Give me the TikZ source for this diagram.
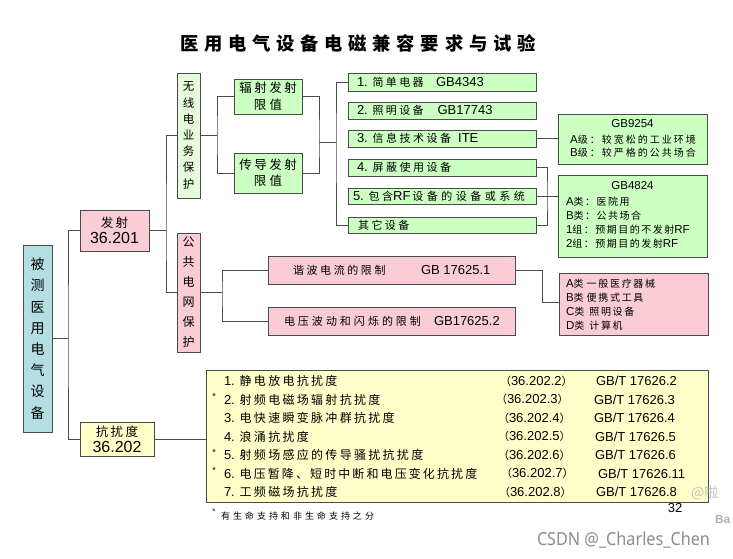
\documentclass[tikz,border=0pt]{standalone}
\usepackage{fontspec}
\usepackage{graphicx}
\setmainfont{Liberation Sans}
\newfontfamily\cjk{Noto Sans CJK SC}
\newfontfamily\wmfont{Noto Sans}
\usetikzlibrary{shadows}
\makeatletter
\def\zhspread#1{\def\zh@k{#1}\zh@first}
\def\zh@first#1{\ifx#1\relax\else#1\expandafter\zh@next\fi}
\def\zh@next#1{\ifx#1\relax\else\kern\zh@k\relax#1\expandafter\zh@next\fi}
\makeatother
\newcommand\Z[3]{{\cjk\fontsize{#1}{#1}\selectfont\zhspread{#2}#3\relax}}
\definecolor{gfill}{HTML}{CCFFC2}
\definecolor{gpale}{HTML}{E4FCDC}
\definecolor{pfill}{HTML}{FACCD5}
\definecolor{tfill}{HTML}{B4DEE2}
\definecolor{yfill}{HTML}{FFFFCA}
\definecolor{edge}{HTML}{4A4A4A}
\begin{document}
\begin{tikzpicture}[x=1pt,y=-1pt,
  bx/.style={draw=edge, line width=0.8pt, inner sep=0pt, outer sep=0pt,
    drop shadow={shadow xshift=0.9pt, shadow yshift=-0.9pt, fill=black!45, opacity=1}},
  conn/.style={draw=edge, line width=0.9pt},
  txt/.style={inner sep=0pt, outer sep=0pt},
  lt/.style={txt, anchor=west},
  f13/.style={font=\fontsize{13}{15}\selectfont},
  f11/.style={font=\fontsize{11.5}{13}\selectfont}]
\fill[white] (0,0) rectangle (733,558);
\useasboundingbox (0,0) rectangle (733,558);

% title
\node[lt] (title) at (180,43) {\bfseries\Z{18.3}{5.8pt}{医用电气设备电磁兼容要求与试验}};

% coordinates for connectors
\coordinate (j0) at (68,338.5);
\coordinate (j1) at (166,230.5);
\coordinate (j2) at (217,135.5);
\coordinate (j3) at (319,142);
\coordinate (j4) at (336,142);
\coordinate (j5) at (547,196);
\coordinate (j6) at (222,292.5);
\coordinate (j7) at (542,302);

% boxes
\node[bx, fill=tfill, minimum width=29pt, minimum height=187pt, align=center,
  font=\cjk\fontsize{14}{21.2}\selectfont] (root) at (37.5,338.5)
  {被\\测\\医\\用\\电\\气\\设\\备};
\node[bx, fill=pfill, minimum width=69pt, minimum height=41pt, align=center,
  font=\fontsize{16}{16}\selectfont] (fs) at (114.5,230.5)
  {\Z{12.5}{2.5pt}{发射}\\36.201};
\node[bx, fill=yfill, minimum width=74pt, minimum height=34pt, align=center,
  font=\fontsize{16}{16}\selectfont] (kr) at (117,439)
  {\Z{12.5}{2.5pt}{抗扰度}\\36.202};
\node[bx, fill=gpale, minimum width=23pt, minimum height=125pt, align=center,
  font=\cjk\fontsize{11.5}{16.2}\selectfont] (wx) at (188.5,135.5)
  {无\\线\\电\\业\\务\\保\\护};
\node[bx, fill=pfill, minimum width=23pt, minimum height=119pt, align=center,
  font=\cjk\fontsize{12}{20}\selectfont] (gg) at (188.5,292.5)
  {公\\共\\电\\网\\保\\护};
\node[bx, fill=gfill, minimum width=68pt, minimum height=35pt, align=center,
  font=\fontsize{12.5}{17}\selectfont] (fsx) at (268,96.5)
  {\Z{12.5}{2.5pt}{辐射发射}\\\Z{12.5}{3.5pt}{限值}};
\node[bx, fill=gfill, minimum width=68pt, minimum height=40pt, align=center,
  font=\fontsize{12.5}{16}\selectfont] (cd) at (268,173)
  {\Z{12.5}{2.5pt}{传导发射}\\\Z{12.5}{3.5pt}{限值}};

\node[bx, fill=gfill, minimum width=188pt, minimum height=18pt] (i1) at (442,82) {};
\node[bx, fill=gfill, minimum width=188pt, minimum height=17pt] (i2) at (442,110.5) {};
\node[bx, fill=gfill, minimum width=188pt, minimum height=17pt] (i3) at (442,138.5) {};
\node[bx, fill=gfill, minimum width=188pt, minimum height=17pt] (i4) at (442,167.5) {};
\node[bx, fill=gfill, minimum width=188pt, minimum height=16pt] (i5) at (442,196) {};
\node[bx, fill=gfill, minimum width=188pt, minimum height=16pt] (i6) at (442,225) {};

\node[bx, fill=gfill, minimum width=149pt, minimum height=50pt] (g9254) at (632.5,139) {};
\node[bx, fill=gfill, minimum width=149pt, minimum height=82pt] (g4824) at (632.5,216) {};
\node[bx, fill=pfill, minimum width=247pt, minimum height=28pt] (hb) at (391.5,270) {};
\node[bx, fill=pfill, minimum width=247pt, minimum height=28pt] (dy) at (391.5,321) {};
\node[bx, fill=pfill, minimum width=149pt, minimum height=62pt] (abcd) at (633.5,304) {};
\node[bx, fill=yfill, minimum width=502pt, minimum height=132pt] (yb) at (457,436) {};

% connectors
\draw[conn] (root.east) -- (j0);
\draw[conn] (fs.west) -| (j0) |- (kr.west);
\draw[conn] (fs.east) -- (j1);
\draw[conn] (wx.west) -| (j1) |- (gg.west);
\draw[conn] (wx.east) -- (j2);
\draw[conn] (fsx.west) -| (j2) |- (cd.west);
\draw[conn] (fsx.east) -| (j3) |- (cd.east);
\draw[conn] (j3) -- (j4);
\draw[conn] (i1.west) -| (j4) |- (i6.west);
\draw[conn] (i3.east) -- (i3.east -| g9254.west);
\draw[conn] (i4.east) -| (j5) |- (i6.east);
\draw[conn] (i5.east) -- (i5.east -| g4824.west);
\draw[conn] (gg.east) -- (j6);
\draw[conn] (hb.west) -| (j6) |- (dy.west);
\draw[conn] (hb.east) -| (j7) -- (j7 -| abcd.west);
\draw[conn] (kr.east) -- (kr.east -| yb.west);

% item texts
\node[lt,f13] (t1) at (357,82) {1. \Z{11}{2.3pt}{简单电器}\hspace{12.5pt}GB4343};
\node[lt,f13] (t2) at (357,110.5) {2. \Z{11}{2.3pt}{照明设备}\hspace{14pt}GB17743};
\node[lt,f13] (t3) at (357,138.5) {3. \Z{11}{2.5pt}{信息技术设备}\hspace{7pt}ITE};
\node[lt,f13] (t4) at (357,167.5) {4. \Z{11}{2.5pt}{屏蔽使用设备}};
\node[lt,f13] (t5) at (353,196) {5. \Z{11}{2.5pt}{包含}RF\hspace{2pt}\Z{11}{3.5pt}{设备的设备或系统}};
\node[lt,f13] (t6) at (358,225) {\Z{11}{2.5pt}{其它设备}};

% GB9254
\node[txt,f11] (g1a) at (632.5,124) {GB9254};
\node[txt,f11] (g1b) at (633,140) {A\Z{10}{2pt}{级：较宽松的工业环境}};
\node[txt,f11] (g1c) at (633,153) {B\Z{10}{2pt}{级：较严格的公共场合}};
% GB4824
\node[txt,f11] (g2a) at (632.5,186) {GB4824};
\node[lt,f11] (g2b) at (566,202) {A\Z{10}{1.5pt}{类：医院用}};
\node[lt,f11] (g2c) at (566,216) {B\Z{10}{1.5pt}{类：公共场合}};
\node[lt,f11] (g2d) at (566,230) {1\Z{10}{1.5pt}{组：预期目的不发射}RF};
\node[lt,f11] (g2e) at (566,244) {2\Z{10}{1.5pt}{组：预期目的发射}RF};
% ABCD
\node[lt,f11] (a1) at (566,284) {A\Z{10}{1.7pt}{类}\hspace{3pt}\Z{10}{1.7pt}{一般医疗器械}};
\node[lt,f11] (a2) at (566,297.5) {B\Z{10}{1.7pt}{类}\hspace{3pt}\Z{10}{1.7pt}{便携式工具}};
\node[lt,f11] (a3) at (566,311.5) {C\Z{10}{1.7pt}{类}\hspace{5pt}\Z{10}{1.7pt}{照明设备}};
\node[lt,f11] (a4) at (566,326) {D\Z{10}{1.7pt}{类}\hspace{5pt}\Z{10}{1.7pt}{计算机}};
% power grid
\node[lt] (hbt) at (293,270) {\Z{11}{2.6pt}{谐波电流的限制}};
\node[lt,f13] (hbg) at (421,270) {GB 17625.1};
\node[lt] (dyt) at (284,321) {\Z{11}{3pt}{电压波动和闪烁的限制}};
\node[lt,f13] (dyg) at (434,321) {GB17625.2};

% immunity rows
\node[lt,f13] (y1) at (224,381) {1. \Z{12}{2.3pt}{静电放电抗扰度}};
\node[lt,f13] (y2) at (224,399.5) {2. \Z{12}{2.3pt}{射频电磁场辐射抗扰度}};
\node[lt,f13] (y3) at (224,418) {3. \Z{12}{2.3pt}{电快速瞬变脉冲群抗扰度}};
\node[lt,f13] (y4) at (224,436.5) {4. \Z{12}{2.3pt}{浪涌抗扰度}};
\node[lt,f13] (y5) at (224,455) {5. \Z{12}{2.3pt}{射频场感应的传导骚扰抗扰度}};
\node[lt,f13] (y6) at (224,473.5) {6. \Z{12}{2.1pt}{电压暂降、短时中断和电压变化抗扰度}};
\node[lt,f13] (y7) at (224,492) {7. \Z{12}{2.3pt}{工频磁场抗扰度}};
\node[txt,font=\fontsize{9}{9}\selectfont] (s2) at (214,396.5) {*};
\node[txt,font=\fontsize{9}{9}\selectfont] (s5) at (214,452) {*};
\node[txt,font=\fontsize{9}{9}\selectfont] (s6) at (214,470.5) {*};

\node[lt,f13] (p1) at (500,381) {\Z{11}{0pt}{（}36.202.2\Z{11}{0pt}{）}};
\node[lt,f13] (p2) at (496,399.5) {\Z{11}{0pt}{（}36.202.3\Z{11}{0pt}{）}};
\node[lt,f13] (p3) at (498,418) {\Z{11}{0pt}{（}36.202.4\Z{11}{0pt}{）}};
\node[lt,f13] (p4) at (498,436.5) {\Z{11}{0pt}{（}36.202.5\Z{11}{0pt}{）}};
\node[lt,f13] (p5) at (498,455) {\Z{11}{0pt}{（}36.202.6\Z{11}{0pt}{）}};
\node[lt,f13] (p6) at (501,473.5) {\Z{11}{0pt}{（}36.202.7\Z{11}{0pt}{）}};
\node[lt,f13] (p7) at (499,492) {\Z{11}{0pt}{（}36.202.8\Z{11}{0pt}{）}};

\node[lt,f13] (q1) at (596,381) {GB/T 17626.2};
\node[lt,f13] (q2) at (594,399.5) {GB/T 17626.3};
\node[lt,f13] (q3) at (594,418) {GB/T 17626.4};
\node[lt,f13] (q4) at (595,436.5) {GB/T 17626.5};
\node[lt,f13] (q5) at (595,455) {GB/T 17626.6};
\node[lt,f13] (q6) at (598,473.5) {GB/T 17626.11};
\node[lt,f13] (q7) at (596,492) {GB/T 17626.8};

% footnote and page marks
\node[txt,font=\fontsize{8}{8}\selectfont] (fns) at (214,512) {*};
\node[lt] (fn) at (221,516) {\Z{9}{3pt}{有生命支持和非生命支持之分}};
\node[txt,f13] (pg) at (675,508) {32};
\node[lt,text=black!25] (wm1) at (691,493) {\Z{14}{0pt}{@啦}};
\node[lt,text=black!30,font=\fontsize{12}{12}\selectfont\bfseries] (wm2) at (715,519) {Ba};
\node[lt,text=black!45] (wm3) at (537,540) {\wmfont\fontsize{18}{18}\selectfont\scalebox{0.9}[1]{CSDN @\_Charles\_Chen}};
\end{tikzpicture}
\end{document}
